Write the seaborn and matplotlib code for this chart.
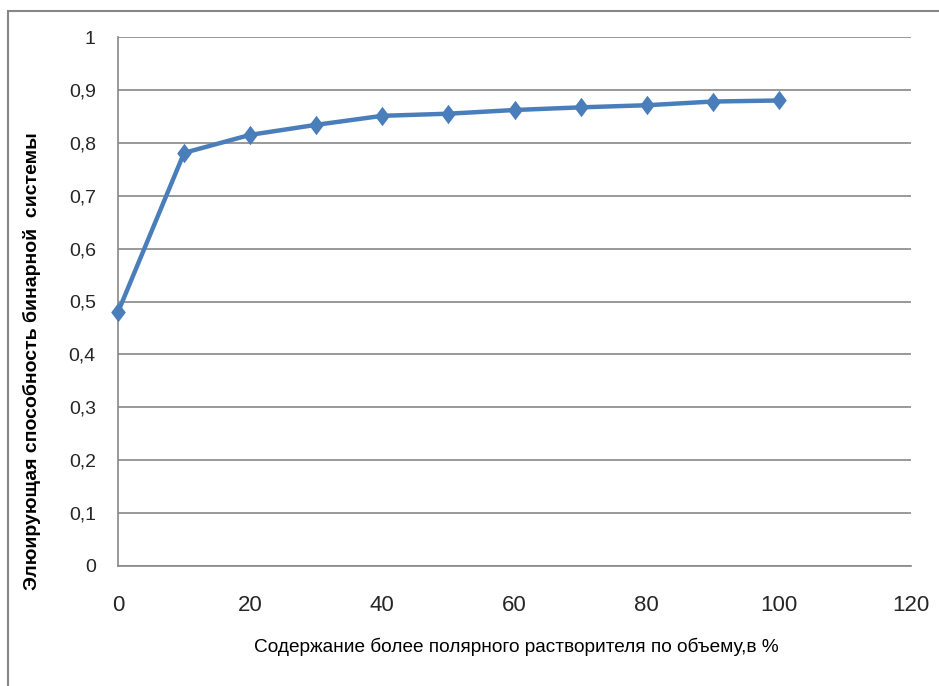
import matplotlib
matplotlib.use("Agg")
import matplotlib.pyplot as plt
import seaborn as sns
import pandas as pd
from matplotlib.path import Path
from matplotlib.patches import Rectangle

# Содержание более полярного растворителя, % (об.)
polar_content = [0, 10, 20, 30, 40, 50, 60, 70, 80, 90, 100]
# Элюирующая способность бинарной системы
eluting_power = [0.48, 0.781, 0.815, 0.834, 0.851, 0.855, 0.862, 0.867, 0.871, 0.878, 0.880]

x_ticks = [0, 20, 40, 60, 80, 100, 120]
y_ticks = [0, 0.1, 0.2, 0.3, 0.4, 0.5, 0.6, 0.7, 0.8, 0.9, 1.0]
y_tick_labels = ["0", "0,1", "0,2", "0,3", "0,4", "0,5", "0,6", "0,7", "0,8", "0,9", "1"]

x_label = "Содержание более полярного растворителя по объему,в %"
y_label = "Элюирующая способность бинарной  системы"

df = pd.DataFrame({"x": polar_content, "y": eluting_power})

sns.set_theme(style="white")
plt.rcParams["font.family"] = ["Liberation Sans", "DejaVu Sans"]

W, H = 939, 686
fig = plt.figure(figsize=(W / 100, H / 100), dpi=100)
fig.patch.set_facecolor("white")

# outer chart frame (left and top edges)
fig.patches.append(Rectangle((8 / W, -0.2), 1.2, 1.2 - 11 / H,
                             transform=fig.transFigure, fill=False,
                             edgecolor="#878787", linewidth=1.5, zorder=0))

ax = fig.add_axes([118 / W, (H - 566) / H, (911 - 118) / W, (566 - 37) / H])

diamond = Path([(0, 1), (0.75, 0), (0, -1), (-0.75, 0), (0, 1)],
               [Path.MOVETO, Path.LINETO, Path.LINETO, Path.LINETO, Path.CLOSEPOLY])

sns.lineplot(data=df, x="x", y="y", ax=ax, color="#4a7ebb", linewidth=3.2,
             marker=diamond, markersize=14, markeredgewidth=0,
             markerfacecolor="#4a7ebb", zorder=3, clip_on=False)

ax.set_xlim(0, 120)
ax.set_ylim(0, 1)
ax.set_xticks(x_ticks)
ax.set_xticklabels([str(t) for t in x_ticks], fontsize=16, color="#262626")
ax.set_yticks(y_ticks)
ax.set_yticklabels(y_tick_labels, fontsize=14, color="#262626")
ax.tick_params(axis="x", length=0, pad=21)
ax.tick_params(axis="y", length=0, pad=16)

ax.yaxis.grid(True, color="#878787", linewidth=1.2)
ax.xaxis.grid(False)
for side in ["top", "right"]:
    ax.spines[side].set_visible(False)
for side in ["left", "bottom"]:
    ax.spines[side].set_color("#878787")
    ax.spines[side].set_linewidth(1.2)

ax.set_xlabel(x_label, fontsize=13.7, color="black")
ax.xaxis.set_label_coords((516 - 118) / (911 - 118), -(647 - 566) / (566 - 37))
ax.set_ylabel(y_label, fontsize=14, fontweight="bold", color="black")
ax.yaxis.set_label_coords(-(118 - 32) / (911 - 118), (566 - 361) / (566 - 37))
ax.xaxis.label.set_verticalalignment("center")
ax.yaxis.label.set_verticalalignment("center")

fig.savefig("out.png", dpi=100, facecolor="white")
